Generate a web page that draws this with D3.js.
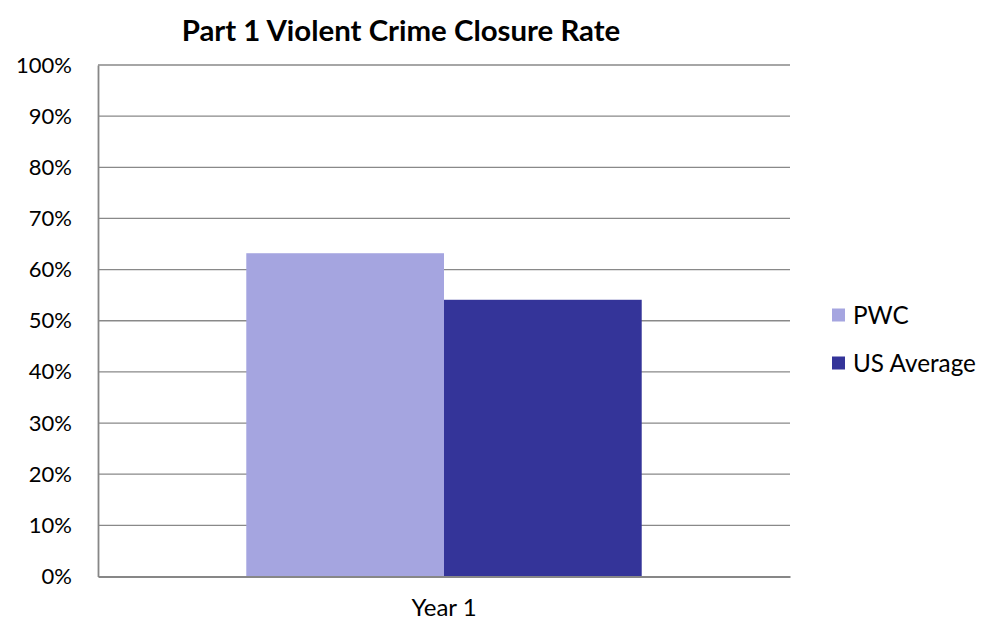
<!DOCTYPE html>
<html><head><meta charset="utf-8">
<script src="https://cdn.jsdelivr.net/npm/d3@7"></script>
<style>body{margin:0;background:#fff}svg{display:block}text{font-family:Lato,"Open Sans",sans-serif;fill:#000}</style>
</head><body><svg id="c" width="986" height="623"></svg>
<script>
const title = "Part 1 Violent Crime Closure Rate";
const categories = ["Year 1"];
const seriesNames = ["PWC", "US Average"];
const pwcValues = [0.632];
const usValues = [0.541];
const yTicks = [0,0.1,0.2,0.3,0.4,0.5,0.6,0.7,0.8,0.9,1.0];
const colors = ["#A5A5E0", "#343499"];

const svg = d3.select("#c");
const m = {left: 98, right: 196, top: 65, bottom: 46.5};
const W = 986, H = 623;
const x0 = d3.scaleBand().domain(categories).range([m.left, W - m.right]).paddingInner(0).paddingOuter(0);
const y = d3.scaleLinear().domain([0, 1]).range([H - m.bottom, m.top]);
// Excel gap width 75%: half the gap on each side of the cluster
const x1 = d3.scaleBand().domain(seriesNames).range([0, x0.bandwidth()]).paddingOuter(0.75).paddingInner(0);

const data = categories.map((c, i) => ({cat: c, vals: [pwcValues[i], usValues[i]]}));

// gridlines
svg.append("g").selectAll("line").data(yTicks.filter(t => t > 0)).join("line")
  .attr("x1", m.left).attr("x2", W - m.right)
  .attr("y1", d => y(d)).attr("y2", d => y(d))
  .attr("stroke", "#898989").attr("stroke-width", 1.3);

// bars
const gc = svg.append("g").selectAll("g").data(data).join("g").attr("transform", d => `translate(${x0(d.cat)},0)`);
gc.selectAll("rect").data(d => d.vals.map((v, j) => ({name: seriesNames[j], v, j}))).join("rect")
  .attr("x", d => x1(d.name)).attr("width", x1.bandwidth())
  .attr("y", d => y(d.v)).attr("height", d => y(0) - y(d.v))
  .attr("fill", d => colors[d.j]);

// y axis
const ya = d3.axisLeft(y).tickValues(yTicks).tickFormat(d3.format(".0%")).tickSize(0).tickPadding(26);
const gy = svg.append("g").attr("transform", `translate(${m.left},0)`).call(ya);
gy.select(".domain").attr("stroke", "#878787").attr("stroke-width", 1.8);
gy.selectAll("text").style("font-size", "22px").style("font-family", "Lato, sans-serif").attr("fill", "#000");

// x axis
const xa = d3.axisBottom(x0).tickSize(0).tickPadding(22);
const gx = svg.append("g").attr("transform", `translate(0,${y(0)})`).call(xa);
gx.select(".domain").attr("stroke", "#878787").attr("stroke-width", 1.8);
gx.selectAll("text").style("font-size", "24px").style("font-family", "Lato, sans-serif").attr("fill", "#000");

// title
svg.append("text").attr("x", 401).attr("y", 41).attr("text-anchor", "middle")
  .style("font-size", "29.4px").style("font-weight", "bold").text(title);

// legend
const lg = svg.append("g").selectAll("g").data(seriesNames).join("g")
  .attr("transform", (d, i) => `translate(832,${315 + i * 48})`);
lg.append("rect").attr("x", 0).attr("y", -6.5).attr("width", 13).attr("height", 13).attr("fill", (d, i) => colors[i]);
lg.append("text").attr("x", 21).attr("y", 0).attr("dy", "0.35em").style("font-size", "24.3px").text(d => d);
</script></body></html>
